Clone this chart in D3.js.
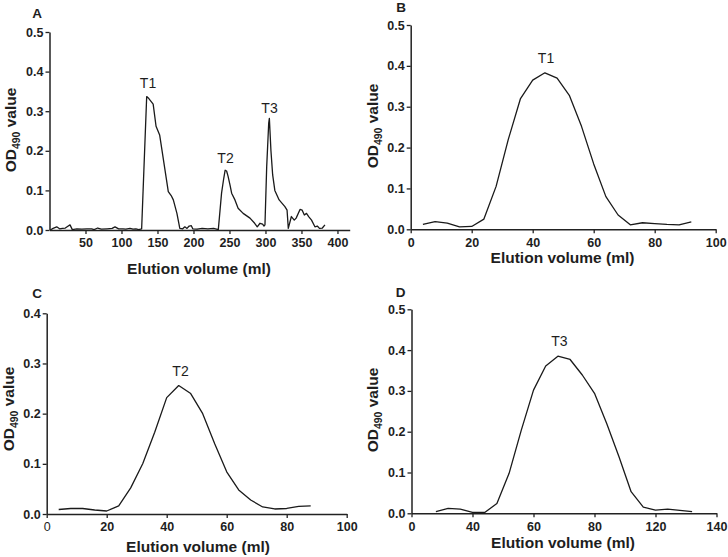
<!DOCTYPE html>
<html>
<head>
<meta charset="utf-8">
<script src="https://cdn.jsdelivr.net/npm/d3@7"></script>
<style>
html,body{margin:0;padding:0;background:#fff;}
svg{display:block;}
text{font-family:"Liberation Sans",Arial,Helvetica,sans-serif;fill:#1e1e1e;}
</style>
</head>
<body>
<svg id="chart" width="728" height="557"></svg>
<script>
// ---------------- DATA ----------------
// Panel A: full elution profile
const aVolume = [1,5,10,14,18,22,25,28.5,31.7,38,45,52,58.6,62,67,72,80,87,91,96,102,106,111.8,116,120,124,128,
  135,138,141,144,148,153,165,169,172,177,181,185,188,191,194,197,199,205,212,220,228,234.5,
  239,242,244,246,248,250.7,253,257.6,262,269,278.5,285,288.6,292.4,296,298,299.3,
  301.7,304.5,305.4,307.6,310,313,319,327,330,331.7,336,340,342.6,348,351,354,357,360,364,368.7,372,375,379,382.6];
const aOD = [0.000,0.004,0.008,0.003,0.004,0.005,0.009,0.013,0.001,0.003,0.002,0.003,0.003,0.001,0.005,0.002,0.003,0.004,0.008,0.003,0.003,0.002,0.004,0.002,0.003,0.001,0.003,
  0.337,0.332,0.325,0.318,0.262,0.240,0.097,0.087,0.076,0.042,0.004,0.003,0.008,0.004,0.010,0.011,0.003,0.002,0.004,0.003,0.004,0.001,
  0.093,0.130,0.151,0.149,0.136,0.114,0.093,0.076,0.055,0.042,0.030,0.017,0.008,0.017,0.015,0.010,0.013,
  0.160,0.270,0.282,0.200,0.139,0.100,0.076,0.059,0.050,0.004,0.034,0.025,0.030,0.052,0.050,0.038,0.042,0.034,0.025,0.008,0.010,0.004,0.005,0.013];
const aTickValues = [50,100,150,200,250,300,350,400];
const aYTicks = [0,0.1,0.2,0.3,0.4,0.5];

// Panel B: T1
const bVolume = [4,8,12,16,20,24,28,32,36,40,44,48,52,56,60,64,68,72,76,80,84,88,92];
const bOD = [0.012,0.019,0.015,0.006,0.007,0.025,0.105,0.220,0.320,0.365,0.383,0.370,0.328,0.252,0.160,0.080,0.035,0.011,0.016,0.014,0.012,0.011,0.018];
const bTickValues = [0,20,40,60,80,100];
const bYTicks = [0,0.1,0.2,0.3,0.4,0.5];

// Panel C: T2
const cVolume = [4,8,12,16,20,24,28,32,36,40,44,48,52,56,60,64,68,72,76,80,84,88];
const cOD = [0.009,0.011,0.011,0.008,0.006,0.016,0.052,0.100,0.163,0.232,0.256,0.240,0.200,0.140,0.084,0.048,0.028,0.014,0.010,0.011,0.015,0.016];
const cTickValues = [0,20,40,60,80,100];
const cYTicks = [0,0.1,0.2,0.3,0.4];

// Panel D: T3 (tick labels as printed in the original figure)
const dVolume = [8,12,16,20,24,28,32,36,40,44,48,52,56,60,64,68,72,76,80,84,88,92];
const dOD = [0.004,0.012,0.010,0.002,0.002,0.024,0.098,0.204,0.302,0.361,0.385,0.377,0.339,0.294,0.220,0.139,0.053,0.015,0.008,0.010,0.007,0.004];
const dTickValues = [0,20,40,60,80,100];
const dTickLabels = ["0","40","60","80","120","140"];
const dYTicks = [0,0.1,0.2,0.3,0.4,0.5];

// ---------------- DRAW ----------------
const svg = d3.select("#chart");

function panel(cfg) {
  const x = d3.scaleLinear().domain(cfg.xDomain).range([cfg.x0, cfg.x1]);
  const y = d3.scaleLinear().domain(cfg.yDomain).range([cfg.y0, cfg.y1]);
  const g = svg.append("g");

  const xAxis = d3.axisBottom(x).tickValues(cfg.xTicks).tickSize(4).tickSizeOuter(0).tickPadding(4.5)
    .tickFormat(cfg.xFormat || (d => d3.format("d")(d)));
  const gx = g.append("g").attr("transform", `translate(0,${cfg.y0})`).call(xAxis);
  gx.select(".domain").attr("stroke", "#222").attr("stroke-width", 1.5);
  gx.selectAll(".tick line").attr("stroke", "#222").attr("stroke-width", 1.3);
  gx.selectAll(".tick text").style("font-size", "12.5px").style("font-weight", "bold").attr("fill", "#1e1e1e");
  if (cfg.lightZero) gx.selectAll(".tick text").filter(d => d === 0).style("font-weight", "normal").attr("fill", "#444");

  const yAxis = d3.axisLeft(y).tickValues(cfg.yTicks).tickSize(4).tickSizeOuter(0).tickPadding(2)
    .tickFormat(d3.format(".1f"));
  const gy = g.append("g").attr("transform", `translate(${cfg.x0},0)`).call(yAxis);
  gy.select(".domain").attr("stroke", "#222").attr("stroke-width", 1.5);
  gy.selectAll(".tick line").attr("stroke", "#222").attr("stroke-width", 1.3);
  gy.selectAll(".tick text").style("font-size", "12.5px").style("font-weight", "bold").attr("fill", "#1e1e1e");

  const line = d3.line().x(d => x(d[0])).y(d => y(d[1]));
  g.append("path").datum(d3.zip(cfg.xs, cfg.ys))
    .attr("d", line).attr("fill", "none").attr("stroke", "#1a1a1a")
    .attr("stroke-width", 1.3).attr("stroke-linejoin", "round");

  // panel letter
  g.append("text").attr("x", cfg.letterX).attr("y", cfg.letterY).attr("text-anchor", "middle")
    .style("font-size", "13.5px").style("font-weight", "bold").text(cfg.letter);

  // x title
  g.append("text").attr("x", cfg.xTitleX).attr("y", cfg.xTitleY).attr("text-anchor", "middle")
    .style("font-size", "15.5px").style("font-weight", "bold").text("Elution volume (ml)");

  // y title
  const yt = g.append("text")
    .attr("transform", `translate(${cfg.yTitleX},${cfg.yTitleY}) rotate(-90)`)
    .attr("text-anchor", "middle").style("font-size", "15.5px").style("font-weight", "bold");
  yt.append("tspan").text("OD");
  yt.append("tspan").attr("dy", 4).style("font-size", "10.5px").text("490");
  yt.append("tspan").attr("dy", -4).text(" value");

  // peak labels
  cfg.peaks.forEach(p => {
    g.append("text").attr("x", p.x).attr("y", p.y).attr("text-anchor", "middle")
      .style("font-size", "14px").text(p.t);
  });
}

panel({
  xDomain: [0, 417], x0: 49.5, x1: 349.7, yDomain: [0, 0.5], y0: 230, y1: 32,
  xTicks: aTickValues, yTicks: aYTicks, xs: aVolume, ys: aOD,
  letter: "A", letterX: 37, letterY: 17.5,
  xTitleX: 199, xTitleY: 273.5, yTitleX: 16, yTitleY: 130,
  peaks: [{t: "T1", x: 148, y: 87.5}, {t: "T2", x: 225.5, y: 163}, {t: "T3", x: 269.5, y: 113}]
});

panel({
  xDomain: [0, 100], x0: 410.7, x1: 715.7, yDomain: [0, 0.5], y0: 229.3, y1: 25,
  xTicks: bTickValues, yTicks: bYTicks, xs: bVolume, ys: bOD,
  letter: "B", letterX: 401, letterY: 12,
  xTitleX: 562.5, xTitleY: 262.5, yTitleX: 378, yTitleY: 126,
  peaks: [{t: "T1", x: 546, y: 62.7}]
});

panel({
  xDomain: [0, 100], x0: 46.7, x1: 346.7, yDomain: [0, 0.4], y0: 514, y1: 313.3,
  xTicks: cTickValues, yTicks: cYTicks, xs: cVolume, ys: cOD, lightZero: true,
  letter: "C", letterX: 37, letterY: 298,
  xTitleX: 198, xTitleY: 552, yTitleX: 14, yTitleY: 409,
  peaks: [{t: "T2", x: 180.5, y: 375.7}]
});

panel({
  xDomain: [0, 100], x0: 411.5, x1: 716.5, yDomain: [0, 0.5], y0: 513.3, y1: 309.3,
  xTicks: dTickValues, yTicks: dYTicks, xs: dVolume, ys: dOD,
  xFormat: (d, i) => dTickLabels[i],
  letter: "D", letterX: 400.5, letterY: 297,
  xTitleX: 563, xTitleY: 548, yTitleX: 378, yTitleY: 410,
  peaks: [{t: "T3", x: 559.3, y: 345.7}]
});
</script>
</body>
</html>
